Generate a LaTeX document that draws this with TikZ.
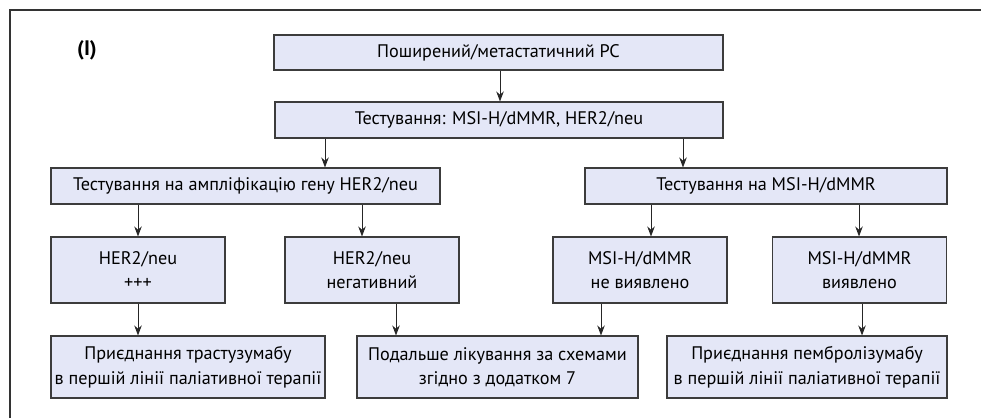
\documentclass[tikz,border=0pt]{standalone}
\usepackage{fontspec}
\setmainfont{PT Sans}
\usetikzlibrary{arrows.meta}
\definecolor{boxfill}{RGB}{228,231,247}
\definecolor{boxline}{RGB}{60,60,60}
\begin{document}
\begin{tikzpicture}[x=1pt,y=-1pt,
  box/.style={draw=boxline,fill=boxfill,line width=1.1pt,inner sep=0pt,
    align=center,font=\fontsize{18.2}{24.5}\selectfont},
  arr/.style={draw=black!85,line width=0.9pt,-{Stealth[length=10pt,width=7.5pt]}}]
\useasboundingbox (0,0) rectangle (981,418);
% open frame: left and top rules
\draw[line width=1.3pt,draw=black!80] (10,418) -- (10,10) -- (981,10);

\node[font=\fontsize{21}{24}\selectfont\bfseries] (lbl) at (87,50) {(I)};

% top level
\node[box,minimum width=449pt,minimum height=35pt] (b1) at (498.5,52.5) {Поширений/метастатичний РС};
\node[box,minimum width=448pt,minimum height=36pt] (b2) at (499,120) {Тестування: MSI-H/dMMR, HER2/neu};

% testing branches
\node[box,minimum width=389pt,minimum height=36pt] (b3) at (245.5,186) {Тестування на ампліфікацію гену HER2/neu};
\node[box,minimum width=362pt,minimum height=36pt] (b4) at (766,186) {Тестування на MSI-H/dMMR};

% results
\node[box,minimum width=174pt,minimum height=66pt] (r1) at (138,270) {HER2/neu\\+++};
\node[box,minimum width=174pt,minimum height=66pt] (r2) at (372,270) {HER2/neu\\негативний};
\node[box,minimum width=174pt,minimum height=66pt] (r3) at (640,270) {MSI-H/dMMR\\не виявлено};
\node[box,minimum width=174pt,minimum height=66pt] (r4) at (859.5,270) {MSI-H/dMMR\\виявлено};

% treatment
\node[box,minimum width=274pt,minimum height=62pt] (t1) at (188,367) {Приєднання трастузумабу\\в першій лінії паліативної терапії};
\node[box,minimum width=281pt,minimum height=62pt] (t2) at (497.5,367) {Подальше лікування за схемами\\згідно з додатком 7};
\node[box,minimum width=280pt,minimum height=62pt] (t3) at (807,367) {Приєднання пембролізумабу\\в першій лінії паліативної терапії};

% vertical positions of the connectors
\coordinate (xa) at (500,0);
\coordinate (xb) at (325,0);
\coordinate (xc) at (683,0);
\coordinate (xd) at (138,0);
\coordinate (xe) at (362,0);
\coordinate (xf) at (651,0);
\coordinate (xg) at (859,0);
\coordinate (xh) at (396,0);
\coordinate (xi) at (601,0);
\coordinate (xj) at (862,0);

\draw[arr] (xa |- b1.south) -- (xa |- b2.north);
\draw[arr] (xb |- b2.south) -- (xb |- b3.north);
\draw[arr] (xc |- b2.south) -- (xc |- b4.north);
\draw[arr] (xd |- b3.south) -- (xd |- r1.north);
\draw[arr] (xe |- b3.south) -- (xe |- r2.north);
\draw[arr] (xf |- b4.south) -- (xf |- r3.north);
\draw[arr] (xg |- b4.south) -- (xg |- r4.north);
\draw[arr] (xd |- r1.south) -- (xd |- t1.north);
\draw[arr] (xh |- r2.south) -- (xh |- t2.north);
\draw[arr] (xi |- r3.south) -- (xi |- t2.north);
\draw[arr] (xj |- r4.south) -- (xj |- t3.north);
\end{tikzpicture}
\end{document}
